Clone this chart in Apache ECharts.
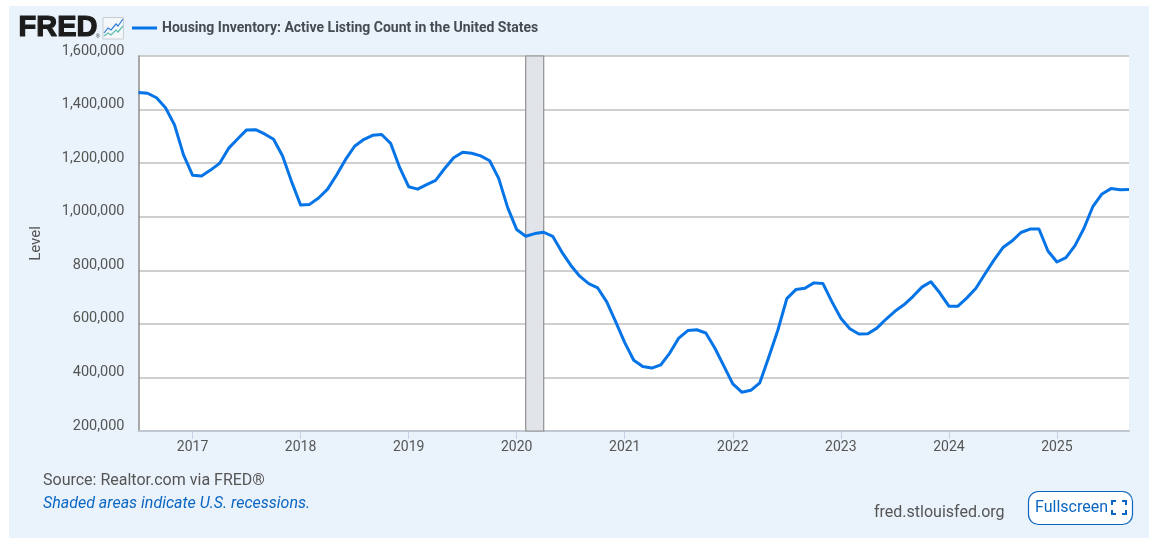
<!DOCTYPE html>
<html>
<head>
<meta charset="utf-8">
<style>html,body{margin:0;padding:0;background:#fff}#c{width:1156px;height:545px}</style>
<script src="https://cdn.jsdelivr.net/npm/echarts@6/dist/echarts.min.js"></script>
</head>
<body>
<div id="c"></div>
<script>
const seriesName = 'Housing Inventory: Active Listing Count in the United States';
const months = [];
for (let y = 2016, m = 7; y < 2025 || m <= 9; m++) {
  if (m > 12) { m = 1; y++; }
  months.push(y + '-' + String(m).padStart(2, '0'));
}
const listings2016to2019 = [1463500,1461000,1444000,1407000,1343000,1231000,1155000,1152000,1174000,1199000,1255000,1290000,1324000,1325000,1309000,1289000,1227000,1131000,1044000,1046000,1070000,1103000,1156000,1214000,1263000,1288000,1304000,1307000,1274000,1184000,1112000,1103000,1120000];
const listings2019to2021 = [1136000,1180000,1220000,1241000,1237000,1227000,1209000,1143000,1034000,952000,927000,937000,942000,927000,869000,819000,778000,750000,734000,682000,607000,530000,464000,441000,435000,447000,491000,547000,575000,578000];
const listings2021to2025 = [566000,510000,443000,376000,345000,352000,380000,476000,576000,694000,728000,733000,753000,751000,683000,621000,582000,562000,563000,584000,617000,647000,671000,702000,737000,757000,715000,666000,666000,697000,733000,786000,838000,885000,909000,941000,954000,954000,872000,831000,847000,892000,957000,1039000,1085000,1105000,1101000,1102000];
const listings = listings2016to2019.concat(listings2019to2021, listings2021to2025);
const recession = ['2020-02', '2020-04'];
const yMin = 200000, yMax = 1600000, yStep = 200000;

const textCol = '#555555', blue = '#0a66c2';
const isJan = (i, v) => months[i].endsWith('-01');
const cornerStyle = { stroke: '#0a66c2', lineWidth: 2, fill: null };
const corner = (pts) => ({ type: 'polyline', shape: { points: pts }, style: cornerStyle, z: 5 });

const chart = echarts.init(document.getElementById('c'), null, { renderer: 'canvas' });
chart.setOption({
  animation: false,
  backgroundColor: '#ffffff',
  textStyle: { fontFamily: 'Roboto' },
  legend: {
    left: 127, top: 16, itemWidth: 25, itemHeight: 3, itemGap: 5, icon: 'rect',
    data: [seriesName],
    textStyle: { fontFamily: 'Roboto', fontWeight: 'bold', fontSize: 14, color: '#464c52' }
  },
  grid: { left: 138.5, right: 27, top: 56, bottom: 114, containLabel: false },
  xAxis: {
    type: 'category', data: months, boundaryGap: false,
    axisLine: { show: true, lineStyle: { color: '#c0c6d2', width: 2 } },
    axisTick: { show: true, length: 8, interval: isJan, lineStyle: { color: '#c6d2e6', width: 1 } },
    axisLabel: {
      interval: isJan, formatter: v => v.slice(0, 4),
      color: textCol, fontSize: 14, margin: 9, fontFamily: 'Roboto'
    },
    splitLine: { show: false }
  },
  yAxis: {
    type: 'value', min: yMin, max: yMax, interval: yStep,
    name: 'Level', nameLocation: 'middle', nameGap: 95, nameRotate: 90,
    nameTextStyle: { color: textCol, fontSize: 15, fontFamily: 'Roboto' },
    axisLine: { show: true, lineStyle: { color: '#8c8c8c', width: 1.5 } },
    axisTick: { show: false },
    axisLabel: {
      color: textCol, fontSize: 14.5, margin: 14, fontFamily: 'Roboto', verticalAlign: 'bottom', lineHeight: 10,
      formatter: v => v.toLocaleString('en-US')
    },
    splitLine: { show: true, lineStyle: { color: '#bfbfbf', width: 1.5 } }
  },
  series: [{
    name: seriesName, type: 'line', data: listings, showSymbol: false, symbol: 'none',
    smooth: false, z: 4,
    lineStyle: { color: '#0574e6', width: 3, join: 'round' },
    itemStyle: { color: '#0574e6' },
    markArea: {
      silent: true, z: 1,
      itemStyle: { color: '#e1e5e9', borderColor: '#8f8f8f', borderWidth: 1.2 },
      data: [[{ xAxis: recession[0] }, { xAxis: recession[1] }]]
    }
  }],
  graphic: [
    { type: 'rect', silent: true, z: -10, shape: { x: 9, y: 6, width: 1140, height: 532 }, style: { fill: '#eaf3fb' } },
    { type: 'rect', silent: true, z: -9, shape: { x: 138.5, y: 56, width: 990.5, height: 375 }, style: { fill: '#ffffff' } },
    { type: 'text', x: 18.5, y: 13, z: 5, style: { text: 'FRED', font: 'bold 29px "Liberation Sans"', fill: '#1c1c1c', stroke: '#1c1c1c', lineWidth: 1.2 } },
    { type: 'text', x: 96, y: 34, z: 5, style: { text: '®', font: '5px "Liberation Sans"', fill: '#1c1c1c' } },
    { type: 'rect', z: 5, shape: { x: 103, y: 17.5, width: 20.5, height: 21.5 }, style: { fill: '#f4f7fa', stroke: '#c9ced3', lineWidth: 1 } },
    { type: 'polyline', z: 6, shape: { points: [[104,33],[108,28],[111,30],[116,24],[118,26],[123,19]] }, style: { stroke: '#2f7fd6', lineWidth: 1.2, fill: null } },
    { type: 'polyline', z: 6, shape: { points: [[104,36],[108,33],[111,35],[116,30],[118,32],[123,26]] }, style: { stroke: '#5dbfae', lineWidth: 1.2, fill: null } },
    { type: 'text', x: 43, y: 473, z: 5, style: { text: 'Source: Realtor.com via FRED®', font: '16px Roboto', fill: textCol } },
    { type: 'text', x: 43, y: 496, z: 5, style: { text: 'Shaded areas indicate U.S. recessions.', font: 'italic 16px Roboto', fill: blue } },
    { type: 'text', x: 874, y: 505, z: 5, style: { text: 'fred.stlouisfed.org', font: '16px Roboto', fill: textCol } },
    { type: 'rect', z: 5, shape: { x: 1028.5, y: 491.5, width: 104, height: 33, r: 10 }, style: { fill: '#ffffff', stroke: blue, lineWidth: 1.2 } },
    { type: 'text', x: 1035, y: 500, z: 6, style: { text: 'Fullscreen', font: '16px Roboto', fill: blue } },
    corner([[1112,505],[1112,501],[1116,501]]),
    corner([[1122,501],[1126,501],[1126,505]]),
    corner([[1112,510],[1112,514],[1116,514]]),
    corner([[1122,514],[1126,514],[1126,510]])
  ]
});
</script>
</body>
</html>
